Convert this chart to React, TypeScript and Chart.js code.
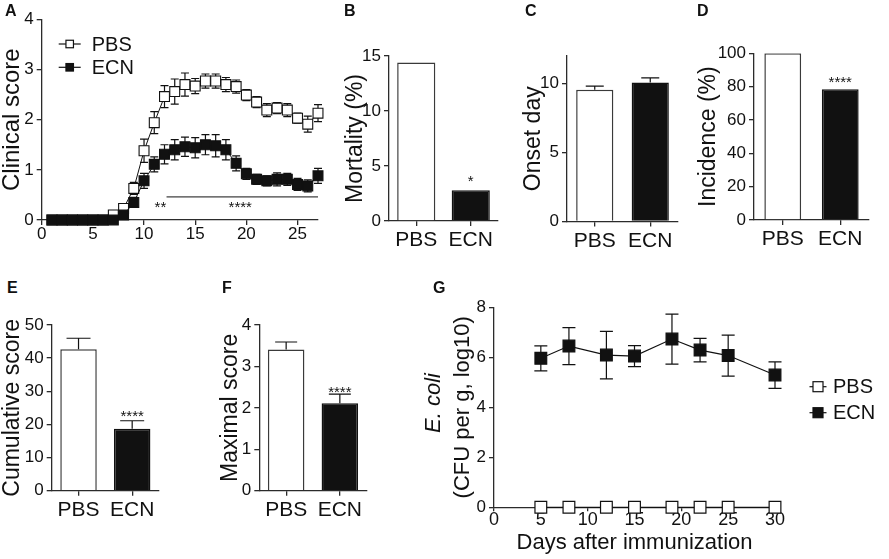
import { useEffect, useRef } from "react";
import { Chart, registerables } from "chart.js";

Chart.register(...registerables);

const FONT = "'Liberation Sans', Arial, Helvetica, sans-serif";
const INK = "#111111";
const AXIS = "#2b2b2b";

Chart.defaults.font.family = FONT;
Chart.defaults.color = INK;

// A: clinical score per day
const days = [1, 2, 3, 4, 5, 6, 7, 8, 9, 10, 11, 12, 13, 14, 15, 16, 17, 18, 19, 20, 21, 22, 23, 24, 25, 26, 27];
const pbsScore = [0, 0, 0, 0, 0, 0, 0.1, 0.23, 0.63, 1.38, 1.94, 2.46, 2.56, 2.7, 2.67, 2.77, 2.77, 2.7, 2.66, 2.49, 2.35, 2.19, 2.23, 2.19, 2.03, 1.91, 2.13];
const pbsScoreErr = [0, 0, 0, 0, 0, 0, 0.04, 0.06, 0.12, 0.23, 0.22, 0.22, 0.25, 0.23, 0.15, 0.14, 0.14, 0.14, 0.13, 0.11, 0.11, 0.13, 0.11, 0.13, 0.1, 0.16, 0.17];
const ecnScore = [0, 0, 0, 0, 0, 0, 0, 0.1, 0.35, 0.78, 1.11, 1.31, 1.4, 1.46, 1.44, 1.5, 1.48, 1.4, 1.13, 0.92, 0.81, 0.78, 0.81, 0.81, 0.71, 0.68, 0.88];
const ecnScoreErr = [0, 0, 0, 0, 0, 0, 0, 0.05, 0.1, 0.15, 0.15, 0.19, 0.2, 0.19, 0.2, 0.2, 0.22, 0.2, 0.15, 0.11, 0.1, 0.1, 0.13, 0.12, 0.12, 0.12, 0.15];
const sigRange = [12.2, 27];
const sigLevel = 0.46;
const sigMarks = [
  { x: 11.6, text: "**" },
  { x: 19.4, text: "****" },
];

// B-F: group summaries
const groups = ["PBS", "ECN"];
const mortality = [14.4, 2.8];
const onsetDay = [9.55, 10.08];
const onsetDayErr = [0.27, 0.34];
const incidence = [100, 78.4];
const cumulative = [42.7, 18.7];
const cumulativeErr = [3.3, 2.4];
const maximal = [3.41, 2.11];
const maximalErr = [0.18, 0.22];

// G: E. coli in feces
const colonDays = [5, 8, 12, 15, 19, 22, 25, 30];
const pbsColon = [0, 0, 0, 0, 0, 0, 0, 0];
const ecnColon = [5.96, 6.45, 6.09, 6.05, 6.73, 6.29, 6.07, 5.29];
const ecnColonErr = [0.5, 0.74, 0.95, 0.42, 1.0, 0.47, 0.82, 0.53];

type Box = { l: number; t: number; r: number; b: number };

function drawErrors(chart: any, mode: string) {
  const { ctx } = chart;
  const yScale = chart.scales.y;
  chart.data.datasets.forEach((ds: any, di: number) => {
    if (!ds.errors || ds.errorMode !== mode) return;
    const meta = chart.getDatasetMeta(di);
    ctx.save();
    ctx.strokeStyle = INK;
    ctx.lineWidth = 1.2;
    meta.data.forEach((el: any, i: number) => {
      const raw = ds.data[i];
      const v = typeof raw === "number" ? raw : raw.y;
      const e = ds.errors[i];
      if (!e) return;
      const half = ds.capWidth / 2;
      const yTop = yScale.getPixelForValue(v + e);
      const yBot = yScale.getPixelForValue(mode === "both" ? v - e : v);
      ctx.beginPath();
      ctx.moveTo(el.x, yTop);
      ctx.lineTo(el.x, yBot);
      ctx.moveTo(el.x - half, yTop);
      ctx.lineTo(el.x + half, yTop);
      if (mode === "both") {
        ctx.moveTo(el.x - half, yBot);
        ctx.lineTo(el.x + half, yBot);
      }
      ctx.stroke();
    });
    ctx.restore();
  });
}

const errorBars = {
  id: "errorBars",
  beforeDatasetsDraw(chart: any) {
    drawErrors(chart, "both");
  },
  afterDatasetsDraw(chart: any) {
    drawErrors(chart, "up");
  },
};

function square(ctx: CanvasRenderingContext2D, x: number, y: number, side: number, fill: string) {
  ctx.fillStyle = fill;
  ctx.strokeStyle = INK;
  ctx.lineWidth = 1.2;
  ctx.fillRect(x - side / 2, y - side / 2, side, side);
  ctx.strokeRect(x - side / 2, y - side / 2, side, side);
}

const notes = {
  id: "notes",
  afterDatasetsDraw(chart: any, _args: any, opts: any) {
    const { ctx, chartArea, scales } = chart;
    ctx.save();
    ctx.fillStyle = INK;
    ctx.textAlign = "center";
    ctx.textBaseline = "alphabetic";
    if (opts.stars) {
      const ds = chart.data.datasets[0];
      const meta = chart.getDatasetMeta(0);
      ctx.font = `15px ${FONT}`;
      opts.stars.forEach((s: string, i: number) => {
        if (!s) return;
        const top = ds.data[i] + (ds.errors ? ds.errors[i] : 0);
        const y = scales.y.getPixelForValue(top) - opts.gap;
        ctx.fillText(s, meta.data[i].x, y + 0.57 * 15);
      });
    }
    if (opts.sig) {
      const y = scales.y.getPixelForValue(opts.sig.level);
      ctx.strokeStyle = INK;
      ctx.lineWidth = 1;
      ctx.beginPath();
      ctx.moveTo(scales.x.getPixelForValue(opts.sig.range[0]), y);
      ctx.lineTo(scales.x.getPixelForValue(opts.sig.range[1]), y);
      ctx.stroke();
      ctx.font = `15px ${FONT}`;
      opts.sig.marks.forEach((m: any) => {
        ctx.fillText(m.text, scales.x.getPixelForValue(m.x), y + 7 + 0.57 * 15);
      });
    }
    if (opts.legend) {
      const lg = opts.legend;
      ctx.font = `20px ${FONT}`;
      ctx.textAlign = "left";
      ctx.textBaseline = "middle";
      lg.items.forEach((it: any, i: number) => {
        const x = chartArea.left + lg.x;
        const y = chartArea.top + lg.y + i * lg.step;
        ctx.strokeStyle = INK;
        ctx.lineWidth = 1.2;
        ctx.beginPath();
        ctx.moveTo(x - lg.arm, y);
        ctx.lineTo(x + lg.arm, y);
        ctx.stroke();
        square(ctx, x, y, lg.side, it.fill);
        ctx.fillStyle = INK;
        ctx.fillText(it.label, x + lg.textGap, y + 1);
      });
    }
    if (opts.sideTitle) {
      const st = opts.sideTitle;
      ctx.translate(chartArea.left + st.dx, chartArea.top + st.dy);
      ctx.rotate(-Math.PI / 2);
      ctx.font = st.font;
      ctx.textAlign = "center";
      ctx.textBaseline = "middle";
      ctx.fillStyle = INK;
      ctx.fillText(st.text, 0, 0);
    }
    ctx.restore();
  },
};

function grid(tickLength = 5) {
  return { drawOnChartArea: false, drawTicks: true, tickLength, color: AXIS, lineWidth: 1.3 };
}
const border = { display: true, color: AXIS, width: 1.3 };

function yAxis(max: number, step: number, title: string, width: number, titleSize = 23, titlePad: any = 0) {
  return {
    min: 0,
    max,
    border,
    grid: grid(),
    ticks: { stepSize: step, includeBounds: false, color: INK, padding: 3, font: { size: 17, lineHeight: 1 } },
    title: { display: true, text: title, color: INK, padding: titlePad, font: { size: titleSize, lineHeight: 1 } },
    afterFit: (s: any) => {
      s.width = width;
    },
  };
}

function barOptions(p: any, max: number, step: number, title: string, extra: any) {
  return {
    responsive: true,
    maintainAspectRatio: false,
    animation: false as const,
    layout: { padding: { left: 0, bottom: 0, top: p.top, right: p.right } },
    plugins: { legend: { display: false }, tooltip: { enabled: false }, notes: extra },
    scales: {
      x: {
        offset: true,
        border,
        grid: { ...grid(), offset: false },
        ticks: { color: INK, padding: 4, font: { size: 21, lineHeight: 1 } },
        afterFit: (s: any) => {
          s.height = p.bottom;
        },
      },
      y: yAxis(max, step, title, p.left),
    },
  };
}

function pads(plot: Box, canvas: Box) {
  return { left: plot.l - canvas.l, top: plot.t - canvas.t, right: canvas.r - plot.r, bottom: canvas.b - plot.b };
}

function barConfig(plot: Box, canvas: Box, values: number[], errors: number[] | null, capWidth: number, barPct: number, max: number, step: number, title: string, stars: string[] | null, gap: number) {
  const p = pads(plot, canvas);
  return {
    type: "bar",
    data: {
      labels: groups,
      datasets: [
        {
          data: values,
          errors,
          errorMode: "up",
          capWidth,
          backgroundColor: ["#ffffff", INK],
          borderColor: ["#3a3a3a", INK],
          borderWidth: 1.5,
          barPercentage: barPct,
          categoryPercentage: 1,
        },
      ],
    },
    options: barOptions(p, max, step, title, stars ? { stars, gap } : {}),
    plugins: [errorBars, notes],
  };
}

const panels: { canvas: Box; config: () => any }[] = [
  {
    canvas: { l: 0, t: 0, r: 330, b: 252 },
    config: () => {
      const plot = { l: 41.7, t: 19.3, r: 318, b: 220 };
      const p = pads(plot, { l: 0, t: 0, r: 330, b: 252 });
      const pt = (ys: number[]) => days.map((d, i) => ({ x: d, y: ys[i] }));
      const series = (label: string, ys: number[], errs: number[], fill: string) => ({
        label,
        data: pt(ys),
        errors: errs,
        errorMode: "both",
        capWidth: 8,
        borderColor: INK,
        borderWidth: 1,
        tension: 0,
        pointStyle: "rect",
        pointRadius: 7,
        pointBackgroundColor: fill,
        pointBorderColor: INK,
        pointBorderWidth: 1.1,
        clip: false,
      });
      return {
        type: "line",
        data: {
          // ECN first so its filled squares sit on top where the groups overlap
          datasets: [series("ECN", ecnScore, ecnScoreErr, INK), series("PBS", pbsScore, pbsScoreErr, "#ffffff")],
        },
        options: {
          responsive: true,
          maintainAspectRatio: false,
          animation: false,
          layout: { padding: { left: 0, bottom: 0, top: p.top, right: p.right } },
          plugins: {
            legend: { display: false },
            tooltip: { enabled: false },
            notes: {
              sig: { range: sigRange, level: sigLevel, marks: sigMarks },
              legend: {
                x: 28,
                y: 24.7,
                step: 23.3,
                side: 7.5,
                arm: 11,
                textGap: 22,
                items: [
                  { label: "PBS", fill: "#ffffff" },
                  { label: "ECN", fill: INK },
                ],
              },
            },
          },
          scales: {
            x: {
              type: "linear",
              min: 0,
              max: 27,
              border,
              grid: grid(),
              ticks: { stepSize: 5, includeBounds: false, color: INK, padding: 1, font: { size: 17, lineHeight: 1 } },
              afterFit: (s: any) => {
                s.height = p.bottom;
              },
            },
            y: yAxis(4, 1, "Clinical score", p.left, 24),
          },
        },
        plugins: [errorBars, notes],
      };
    },
  },
  {
    canvas: { l: 344, t: 40, r: 512, b: 254 },
    config: () => barConfig({ l: 389, t: 56, r: 498, b: 221 }, { l: 344, t: 40, r: 512, b: 254 }, mortality, null, 0, 0.7, 15, 5, "Mortality (%)", ["", "*"], 12.6),
  },
  {
    canvas: { l: 522, t: 40, r: 692, b: 254 },
    config: () => barConfig({ l: 567, t: 56, r: 678, b: 221.5 }, { l: 522, t: 40, r: 692, b: 254 }, onsetDay, onsetDayErr, 18, 0.67, 12, 5, "Onset day", null, 0),
  },
  {
    canvas: { l: 697, t: 38, r: 889, b: 254 },
    config: () => barConfig({ l: 754, t: 53.3, r: 869, b: 220 }, { l: 697, t: 38, r: 889, b: 254 }, incidence, null, 0, 0.64, 100, 20, "Incidence (%)", ["", "****"], 11),
  },
  {
    canvas: { l: 1, t: 308, r: 175, b: 524 },
    config: () => barConfig({ l: 51.7, t: 325, r: 159, b: 490.7 }, { l: 1, t: 308, r: 175, b: 524 }, cumulative, cumulativeErr, 24, 0.68, 50, 10, "Cumulative score", ["", "****"], 8),
  },
  {
    canvas: { l: 219, t: 308, r: 385, b: 524 },
    config: () => barConfig({ l: 259.3, t: 325, r: 366.7, b: 490.7 }, { l: 219, t: 308, r: 385, b: 524 }, maximal, maximalErr, 22, 0.68, 4, 1, "Maximal score", ["", "****"], 6),
  },
  {
    canvas: { l: 420, t: 290, r: 889, b: 554 },
    config: () => {
      const plot = { l: 494, t: 307.3, r: 775, b: 507.3 };
      const p = pads(plot, { l: 420, t: 290, r: 889, b: 554 });
      const pt = (ys: number[]) => colonDays.map((d, i) => ({ x: d, y: ys[i] }));
      return {
        type: "line",
        data: {
          datasets: [
            {
              label: "PBS",
              data: pt(pbsColon),
              borderColor: INK,
              borderWidth: 1.2,
              pointStyle: "rect",
              pointRadius: 8.3,
              pointBackgroundColor: "#ffffff",
              pointBorderColor: INK,
              pointBorderWidth: 1.2,
              clip: false,
            },
            {
              label: "ECN",
              data: pt(ecnColon),
              errors: ecnColonErr,
              errorMode: "both",
              capWidth: 13,
              borderColor: INK,
              borderWidth: 1.2,
              pointStyle: "rect",
              pointRadius: 8.3,
              pointBackgroundColor: INK,
              pointBorderColor: INK,
              pointBorderWidth: 1.2,
              clip: false,
            },
          ],
        },
        options: {
          responsive: true,
          maintainAspectRatio: false,
          animation: false,
          layout: { padding: { left: 0, bottom: 0, top: p.top, right: p.right } },
          plugins: {
            legend: { display: false },
            tooltip: { enabled: false },
            notes: {
              legend: {
                x: 324,
                y: 79.4,
                step: 26,
                side: 10,
                arm: 8.5,
                textGap: 15,
                items: [
                  { label: "PBS", fill: "#ffffff" },
                  { label: "ECN", fill: INK },
                ],
              },
              sideTitle: { text: "E. coli", dx: -60, dy: 95.7, font: `italic 22px ${FONT}` },
            },
          },
          scales: {
            x: {
              type: "linear",
              min: 0,
              max: 30,
              border,
              grid: grid(4),
              ticks: { stepSize: 5, color: INK, padding: 0, font: { size: 18, lineHeight: 1 } },
              title: { display: true, text: "Days after immunization", color: INK, padding: 0, font: { size: 22, lineHeight: 1 } },
              afterFit: (s: any) => {
                s.height = p.bottom;
              },
            },
            y: yAxis(8, 2, "(CFU per g, log10)", p.left, 22, { top: 32, bottom: 0 }),
          },
        },
        plugins: [errorBars, notes],
      };
    },
  },
];

const letters = [
  { text: "A", x: 5, y: 5 },
  { text: "B", x: 344, y: 5 },
  { text: "C", x: 525, y: 5 },
  { text: "D", x: 697, y: 5 },
  { text: "E", x: 7, y: 282 },
  { text: "F", x: 222, y: 282 },
  { text: "G", x: 433, y: 282 },
];

function Panel({ canvas, config }: { canvas: Box; config: () => any }) {
  const ref = useRef<HTMLCanvasElement>(null);
  useEffect(() => {
    if (!ref.current) return;
    const chart = new Chart(ref.current, config());
    return () => {
      chart.destroy();
    };
  }, []);
  return (
    <div style={{ position: "absolute", left: canvas.l, top: canvas.t, width: canvas.r - canvas.l, height: canvas.b - canvas.t }}>
      <canvas ref={ref}></canvas>
    </div>
  );
}

export default function App() {
  return (
    <div style={{ position: "absolute", left: 0, top: 0, width: 889, height: 559, background: "#ffffff", overflow: "hidden", fontFamily: FONT }}>
      {panels.map((p, i) => (
        <Panel key={i} canvas={p.canvas} config={p.config} />
      ))}
      {letters.map((l) => (
        <div key={l.text} style={{ position: "absolute", left: l.x, top: l.y - 2.1, fontSize: 16, fontWeight: "bold", lineHeight: 1, color: INK }}>
          {l.text}
        </div>
      ))}
    </div>
  );
}
